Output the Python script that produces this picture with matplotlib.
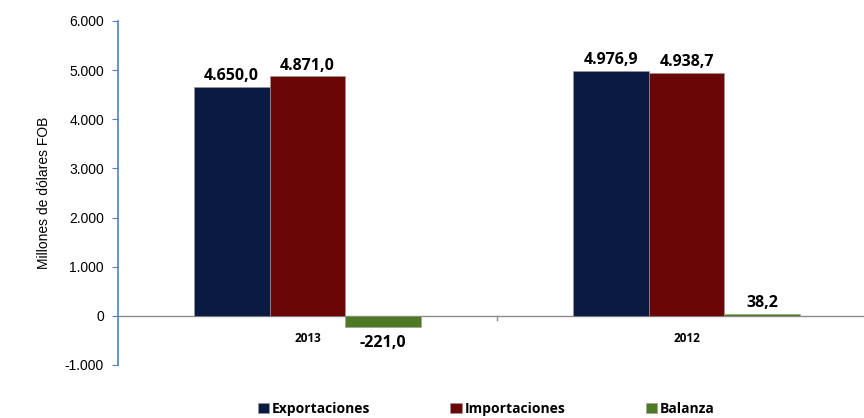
import numpy as np
import matplotlib.pyplot as plt

# data
years = ["2013", "2012"]
series = ["Exportaciones", "Importaciones", "Balanza"]
exportaciones = [4650.0, 4976.9]
importaciones = [4871.0, 4938.7]
balanza = [-221.0, 38.2]
colors = ["#0b1a40", "#6b0606", "#4e7a26"]

def fmt(v):
    s = "{:,.1f}".format(v)
    return s.replace(",", "X").replace(".", ",").replace("X", ".")

fig = plt.figure(figsize=(8.64, 4.18), dpi=100)
W, H = 864.0, 418.0
ax = fig.add_axes([118 / W, 1 - 365 / H, (876 - 118) / W, (365 - 21) / H])

x = np.arange(len(years))
width = 0.2
values = [exportaciones, importaciones, balanza]
for i, (name, vals) in enumerate(zip(series, values)):
    pos = x + (i - 1) * width
    ax.bar(pos, vals, width, color=colors[i], edgecolor="#9a9a9a", linewidth=0.4,
           label=name, zorder=3)
    for p, v in zip(pos, vals):
        if v < 0:
            ax.text(p, v - 170, fmt(v), ha="center", va="top", fontsize=11.5,
                    fontweight="bold", family="Open Sans")
        else:
            ax.text(p, v + 60, fmt(v), ha="center", va="bottom", fontsize=11.5,
                    fontweight="bold", family="Open Sans")

ax.set_xlim(-0.5, 1.5)
ax.set_ylim(-1000, 6000)
ax.set_yticks(np.arange(-1000, 6001, 1000))
ax.set_yticklabels([fmt(t)[:-2] if t != 0 else "0" for t in np.arange(-1000, 6001, 1000)],
                   family="Liberation Sans", fontsize=10)
ax.tick_params(axis="y", color="#4f81bd", length=4, pad=6)
ax.set_xticks([])

for s in ["top", "right", "bottom"]:
    ax.spines[s].set_visible(False)
ax.spines["left"].set_color("#4f81bd")
ax.spines["left"].set_linewidth(1.2)

ax.axhline(0, color="#8c8c8c", linewidth=1, zorder=2)
ax.plot([0.5, 0.5], [0, -90], color="#8c8c8c", linewidth=1, zorder=2)

for xi, yr in zip(x, years):
    ax.text(xi, -460, yr, ha="center", va="center", fontsize=8.5, fontweight="bold",
            family="Open Sans")

ax.set_ylabel("Millones de dólares FOB", family="Liberation Sans", fontsize=10, labelpad=10)

fig.legend(loc="lower center", bbox_to_anchor=(486 / W, -0.025), ncol=3, frameon=False,
           prop={"family": "Open Sans", "weight": "bold", "size": 10},
           handlelength=0.8, handleheight=0.8, handletextpad=0.2, columnspacing=5.8)

fig.savefig("out.png", dpi=100)
